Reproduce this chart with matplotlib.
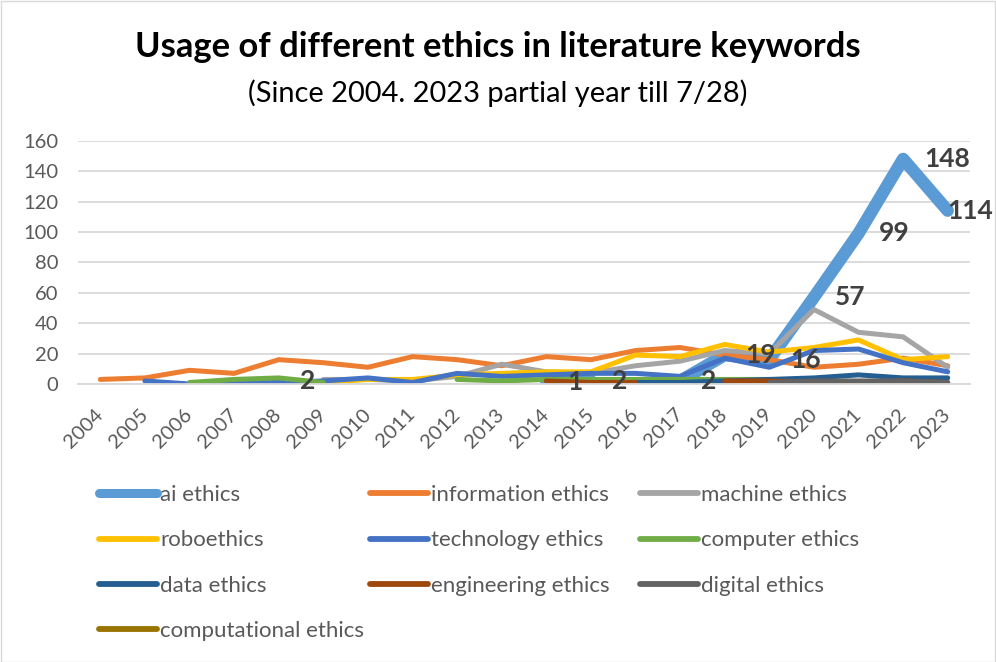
import numpy as np
import matplotlib
matplotlib.use('Agg')
import matplotlib.pyplot as plt
from matplotlib.patches import Rectangle
from matplotlib.lines import Line2D

plt.rcParams['font.family'] = ['Lato', 'DejaVu Sans']

nan = np.nan
years = [str(y) for y in range(2004, 2024)]

ai_ethics = [nan, nan, nan, nan, 2, nan, nan, nan, nan, nan, 1, 2, nan, 2, 19, 16, 57, 99, 148, 114]
information_ethics = [3, 4, 9, 7, 16, 14, 11, 18, 16, 12, 18, 16, 22, 24, 19, 16, 11, 13, 17, 12]
machine_ethics = [nan, nan, nan, nan, nan, 3, 3, 2, 5, 13, 8, 7, 12, 15, 22, 20, 49, 34, 31, 11]
roboethics = [nan, nan, nan, nan, nan, 1, 3, 3, 6, 7, 8, 8, 19, 18, 26, 21, 24, 29, 16, 18]
technology_ethics = [nan, 2, 0, 1, 1, 2, 4, 1, 7, 5, 6, 7, 7, 5, 17, 11, 22, 23, 14, 8]
computer_ethics = [nan, nan, 1, 3, 4, 1, nan, nan, 3, 2, 3, 3, 3, 3, 3, 3, nan, nan, nan, nan]
data_ethics = [nan] * 12 + [1, 1, 2, 3, 4, 6, 4, 4]
engineering_ethics = [nan] * 10 + [2, 1, 1, nan, 2, 2, 1, 1, 2, 1]
digital_ethics = [nan] * 15 + [1, 2, 2, 2, 1]
computational_ethics = [nan] * 17 + [1, nan, nan]

series_names = ['ai ethics', 'information ethics', 'machine ethics', 'roboethics',
                'technology ethics', 'computer ethics', 'data ethics',
                'engineering ethics', 'digital ethics', 'computational ethics']
series_values = [ai_ethics, information_ethics, machine_ethics, roboethics,
                 technology_ethics, computer_ethics, data_ethics,
                 engineering_ethics, digital_ethics, computational_ethics]
colors = ['#5B9BD5', '#ED7D31', '#A5A5A5', '#FFC000', '#4472C4', '#70AD47',
          '#255E91', '#9E480E', '#636363', '#997300']
y_ticks = [0, 20, 40, 60, 80, 100, 120, 140, 160]

W, H = 996, 662
fig = plt.figure(figsize=(W / 100, H / 100), dpi=100)
fig.patch.set_facecolor('white')
fig.add_artist(Rectangle((0.5 / W, 0.5 / H), 1 - 1.5 / W, 1 - 1.5 / H, transform=fig.transFigure,
                         fill=False, edgecolor='#D9D9D9', linewidth=1.0))

left, right, top, bottom = 78, 970, 140.7, 384
ax = fig.add_axes([left / W, 1 - bottom / H, (right - left) / W, (bottom - top) / H])
x = np.arange(len(years))

for name, vals, c in zip(series_names, series_values, colors):
    lw = 9.0 if name == 'ai ethics' else 3.6
    ax.plot(x, vals, color=c, lw=lw, label=name, solid_capstyle='round',
            solid_joinstyle='round')

# data labels for ai ethics (Excel 'right' position; last one kept inside chart)
last_idx = max(i for i, v in enumerate(ai_ethics) if not np.isnan(v))
for i, v in enumerate(ai_ethics):
    if not np.isnan(v):
        dx = 0 if i == last_idx else 15
        ax.annotate(f'{int(v)}', (i, v), xytext=(dx, 0), textcoords='offset points',
                    ha='left', va='center', fontsize=19, fontweight='bold', color='#404040',
                    zorder=20, annotation_clip=False)

ax.set_xlim(-0.5, len(years) - 0.5)
ax.set_ylim(0, 160)
ax.set_yticks(y_ticks)
ax.set_yticklabels([str(t) for t in y_ticks])
ax.set_xticks(x)
ax.set_xticklabels(years, rotation=45, ha='right', va='center', rotation_mode='anchor')
ax.tick_params(axis='both', length=0, labelsize=14.5, colors='#595959')
ax.tick_params(axis='y', pad=14)
ax.tick_params(axis='x', pad=19.8)
ax.grid(axis='y', color='#D9D9D9', linewidth=1.3)
ax.set_axisbelow(True)
for s in ['top', 'right', 'left']:
    ax.spines[s].set_visible(False)
ax.spines['bottom'].set_color('#D9D9D9')
ax.spines['bottom'].set_linewidth(1.3)
ax.patch.set_alpha(0)

fig.text(0.5, 1 - 47 / H, 'Usage of different ethics in literature keywords', ha='center', va='center',
         fontsize=24.8, fontweight='bold', color='black')
fig.text(0.5, 1 - 93 / H, '(Since 2004. 2023 partial year till 7/28)', ha='center', va='center',
         fontsize=20.9, color='black')

# legend: three columns, filled row by row
col_x = [99, 370, 640]
for k in range(3):
    idx = list(range(k, len(series_names), 3))
    handles = [Line2D([], [], color=colors[j], lw=6.5 if j == 0 else 4.2, solid_capstyle='round')
               for j in idx]
    fig.legend(handles, [series_names[j] for j in idx], loc='upper left',
               bbox_to_anchor=(col_x[k] / W, 1 - 485 / H), frameon=False,
               fontsize=16, handlelength=2.6, handletextpad=0.15, labelspacing=1.14,
               borderpad=0, borderaxespad=0, labelcolor='#595959')

fig.savefig('out.png', dpi=100)
